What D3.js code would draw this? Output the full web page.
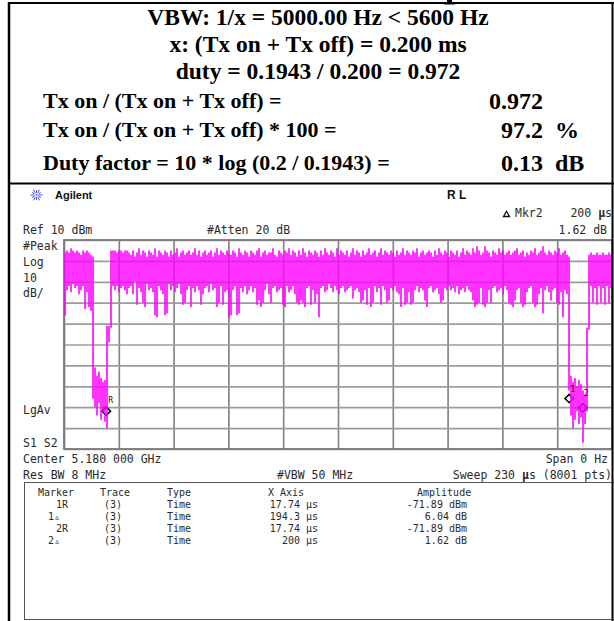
<!DOCTYPE html>
<html>
<head>
<meta charset="utf-8">
<script src="https://cdn.jsdelivr.net/npm/d3@7/dist/d3.min.js"></script>
<style>
  body { margin: 0; background: #fff; }
  svg { display: block; }
</style>
</head>
<body>
<svg id="chart" width="614" height="621"></svg>
<script>
// ---- summary block ----
const headLines = [
  "VBW: 1/x = 5000.00 Hz < 5600 Hz",
  "x: (Tx on + Tx off) = 0.200 ms",
  "duty = 0.1943 / 0.200 = 0.972"
];
const resultLabels = [
  "Tx on / (Tx on + Tx off) =",
  "Tx on / (Tx on + Tx off) * 100 =",
  "Duty factor = 10 * log (0.2 / 0.1943) ="
];
const resultValues = ["0.972", "97.2", "0.13"];
const resultUnits = ["", "%", "dB"];

// ---- analyzer settings ----
const refLevel = 10;      // dBm, top graticule line
const dbPerDiv = 10;
const divisions = 10;
const sweepTime = 230;    // μs across the screen

// ---- trace: peak-detected max / min per display bucket (dBm) ----
const traceHigh = [
  4,5,4,6,5,4,5,4,3,5,4,5,4,3,
  2,-51,-55,-53,-56,-58,-57,-31,-31,
  5,5,5,4,5,5,4,5,5,4,
  3,5,2,4,6,3,5,4,2,5,
  4,3,6,2,5,4,3,5,4,2,
  5,3,4,6,2,4,5,3,4,5,
  3,4,6,3,5,2,4,5,3,4,
  5,2,4,6,3,5,4,3,5,4,
  3,5,4,2,6,4,3,5,4,2,
  5,4,3,5,6,2,4,5,3,4,
  4,6,3,2,5,4,3,5,4,6,
  3,5,4,2,5,3,6,4,2,5,
  4,3,5,4,2,5,3,6,4,3,
  5,4,2,6,3,5,4,3,5,2,
  4,6,3,5,4,2,5,3,4,6,
  3,4,5,2,4,6,3,5,4,3,
  5,4,2,5,3,4,6,3,5,4,
  3,5,4,6,2,4,5,3,4,5,
  4,2,5,3,6,4,3,5,4,2,
  5,4,3,5,2,4,6,3,5,4,
  3,6,4,7,5,3,4,7,5,4,
  2,5,4,3,6,4,5,3,4,5,
  3,4,5,6,3,4,5,2,4,3,
  5,4,6,3,4,5,7,4,3,5,
  4,3,5,4,6,3,4,5,3,
  2,-55,-58,-56,-60,-57,-59,-62,-64,-32,
  3,4,3,3,4,3,3,4,3,3,4,3
];
const traceLow = [
  -26,-14,-12,-15,-11,-13,-12,-16,-14,-12,-23,-15,-22,-24,
  -66,-70,-74,-68,-76,-72,-77,-80,-39,
  -32,-12,-14,-12,-15,-13,-12,-14,-16,-13,
  -12,-16,-10,-21,-13,-15,-20,-22,-11,-14,
  -13,-15,-26,-27,-12,-14,-16,-26,-25,-11,
  -14,-12,-15,-13,-11,-16,-21,-20,-14,-12,
  -22,-13,-15,-12,-14,-21,-16,-13,-12,-15,
  -11,-14,-13,-22,-20,-12,-21,-15,-14,-27,
  -26,-14,-12,-26,-25,-13,-15,-12,-16,-14,
  -12,-15,-13,-21,-19,-22,-20,-14,-11,-16,
  -20,-13,-12,-15,-14,-13,-21,-22,-12,-15,
  -14,-12,-16,-20,-21,-19,-20,-22,-13,-12,
  -21,-14,-20,-16,-27,-13,-12,-15,-14,-11,
  -13,-15,-12,-14,-16,-13,-12,-15,-14,-13,
  -12,-18,-14,-13,-15,-20,-19,-14,-21,-13,
  -22,-20,-12,-15,-13,-21,-12,-14,-20,-19,
  -13,-14,-12,-15,-16,-22,-13,-21,-20,-15,
  -21,-20,-14,-12,-15,-13,-14,-19,-22,-13,
  -12,-15,-14,-13,-16,-20,-19,-13,-14,-12,
  -14,-13,-15,-12,-16,-14,-13,-15,-12,-14,
  -15,-19,-22,-21,-20,-13,-21,-22,-20,-14,
  -20,-13,-12,-15,-14,-13,-16,-12,-14,-20,
  -21,-22,-19,-14,-13,-20,-22,-21,-15,-13,
  -12,-20,-22,-21,-16,-13,-25,-14,-12,-15,
  -19,-14,-13,-20,-21,-15,-27,-14,-16,
  -62,-74,-80,-76,-72,-78,-75,-87,-78,-72,
  -33,-12,-20,-13,-21,-12,-20,-13,-21,-12,-20,-13
];

// ---- markers (reference marker, then deltas relative to it) ----
const markerNames  = ["1R", "1\u25B5", "2R", "2\u25B5"];
const markerTraces = ["(3)", "(3)", "(3)", "(3)"];
const markerTypes  = ["Time", "Time", "Time", "Time"];
const markerTimes  = [17.74, 194.3, 17.74, 200];     // μs
const markerAmps   = [-71.89, 6.04, -71.89, 1.62];   // dBm for R, dB for deltas
const markerIsRef  = [true, false, true, false];

const svg = d3.select("#chart");
const mono = "'DejaVu Sans Mono', monospace";
const serif = "'Liberation Serif', 'Times New Roman', serif";
const textColor = "#2a2a2a";

// ================= summary block =================
const summary = svg.append("g");
// tail of the heading glyph above the box
summary.append("path").attr("d", "M447,0H452V2.5H455V4.5H444V2.5H447Z").attr("fill", "#000");

headLines.forEach((t, i) => {
  summary.append("text")
    .attr("x", 318).attr("y", 25 + i * 27)
    .attr("text-anchor", "middle")
    .attr("font-family", serif).attr("font-weight", "bold").attr("font-size", 23.5)
    .text(t);
});
resultLabels.forEach((t, i) => {
  const by = [108, 137, 170][i];
  summary.append("text")
    .attr("x", 43).attr("y", by)
    .attr("font-family", serif).attr("font-weight", "bold").attr("font-size", 22)
    .text(t);
  summary.append("text")
    .attr("x", 543).attr("y", by + 1)
    .attr("text-anchor", "end")
    .attr("font-family", serif).attr("font-weight", "bold").attr("font-size", 24)
    .text(resultValues[i]);
  if (resultUnits[i]) {
    summary.append("text")
      .attr("x", 555).attr("y", by + 1)
      .attr("font-family", serif).attr("font-weight", "bold").attr("font-size", 24)
      .text(resultUnits[i]);
  }
});

// ================= analyzer screen =================
const grid = { x0: 64, x1: 612, y0: 240, y1: 449 };
const x = d3.scaleLinear().domain([0, sweepTime]).range([grid.x0, grid.x1]);
const y = d3.scaleLinear()
  .domain([refLevel - dbPerDiv * divisions, refLevel])
  .range([grid.y1, grid.y0]);

const divTimes = d3.range(divisions + 1).map(i => i * sweepTime / divisions);
const divLevels = d3.range(divisions + 1).map(i => refLevel - i * dbPerDiv);

// graticule drawn with axes whose ticks span the screen
const gx = svg.append("g")
  .attr("transform", `translate(0,${grid.y1})`)
  .call(d3.axisBottom(x).tickValues(divTimes).tickSize(-(grid.y1 - grid.y0)).tickFormat(""));
gx.select(".domain").remove();
gx.selectAll("line").attr("stroke", "#858585").attr("stroke-width", 1.7);

const gy = svg.append("g")
  .attr("transform", `translate(${grid.x0},0)`)
  .call(d3.axisLeft(y).tickValues(divLevels).tickSize(-(grid.x1 - grid.x0)).tickFormat(""));
gy.select(".domain").remove();
gy.selectAll("line").attr("stroke", "#9c9c9c").attr("stroke-width", 1.7);
// frame edges a little darker
svg.append("rect").attr("x", grid.x0).attr("y", grid.y0)
  .attr("width", grid.x1 - grid.x0).attr("height", grid.y1 - grid.y0)
  .attr("fill", "none").attr("stroke", "#7a7a7a").attr("stroke-width", 1.8);

// marker diamonds (under the trace)
const mkX = (i) => markerIsRef[i] ? markerTimes[i] : markerTimes[0] + markerTimes[i];
const mkY = (i) => markerIsRef[i] ? markerAmps[i] : markerAmps[0] + markerAmps[i];
const diamond = (cx, cy, r) => `M${cx - r},${cy}L${cx},${cy - r}L${cx + r},${cy}L${cx},${cy + r}Z`;
const markerIdx = [0, 1, 3];
svg.append("g").selectAll("path").data(markerIdx).join("path")
  .attr("d", i => diamond(x(mkX(i)), y(mkY(i)), 4.2))
  .attr("fill", "none").attr("stroke", "#000").attr("stroke-width", 1.6);

// trace
svg.append("clipPath").attr("id", "scr").append("rect")
  .attr("x", grid.x0).attr("y", grid.y0 - 2)
  .attr("width", grid.x1 - grid.x0).attr("height", grid.y1 - grid.y0 + 2);
const bucket = d3.scaleLinear().domain([0, traceHigh.length]).range([0, sweepTime]);
svg.append("g").attr("clip-path", "url(#scr)")
  .selectAll("line").data(traceHigh).join("line")
  .attr("x1", (d, i) => x(bucket(i + 0.5)))
  .attr("x2", (d, i) => x(bucket(i + 0.5)))
  .attr("y1", d => y(d))
  .attr("y2", (d, i) => y(traceLow[i]))
  .attr("stroke", "#ff00ff").attr("stroke-width", 1.6);

// marker labels
svg.append("text").attr("x", x(mkX(0)) + 2).attr("y", y(mkY(0)) - 8)
  .attr("font-family", mono).attr("font-size", 8).attr("fill", "#111").text("R");
svg.append("text").attr("x", x(mkX(1)) + 1).attr("y", y(mkY(1)) - 7)
  .attr("font-family", mono).attr("font-size", 8).attr("fill", "#111").text("1");
svg.append("text").attr("x", x(mkX(3)) + 1).attr("y", y(mkY(3)) - 12)
  .attr("font-family", mono).attr("font-size", 8).attr("fill", "#111").text("2");

// ---- screen annotations ----
const ann = (t, xx, yy, anchor, size) => svg.append("text")
  .attr("x", xx).attr("y", yy).attr("text-anchor", anchor || "start")
  .attr("font-family", mono).attr("font-size", size || 11.5).attr("fill", textColor)
  .text(t);

// Agilent logo burst
const logo = svg.append("g").attr("transform", "translate(36.5,195)");
d3.range(12).forEach(k => {
  const a = k * Math.PI / 6;
  logo.append("line")
    .attr("x1", 2.2 * Math.cos(a)).attr("y1", 2.2 * Math.sin(a))
    .attr("x2", (k % 2 ? 5 : 6.2) * Math.cos(a)).attr("y2", (k % 2 ? 5 : 6.2) * Math.sin(a))
    .attr("stroke", "#4b4bf5").attr("stroke-width", 1);
});
logo.append("circle").attr("r", 1.2).attr("fill", "#8a8aff");
svg.append("text").attr("x", 55).attr("y", 198.5)
  .attr("font-family", "'Liberation Sans', Arial, sans-serif").attr("font-weight", "bold")
  .attr("font-size", 11).attr("fill", "#111").text("Agilent");
svg.append("text").attr("x", 447).attr("y", 199)
  .attr("font-family", "'Liberation Sans', Arial, sans-serif").attr("font-weight", "bold")
  .attr("font-size", 12).attr("fill", "#111").text("R L");

// active marker readout
svg.append("path").attr("d", "M503.5,216.5L506.5,211.2L509.5,216.5Z")
  .attr("fill", "none").attr("stroke", "#111").attr("stroke-width", 1.3);
ann("Mkr2", 515, 217);
const mk2 = svg.append("text").attr("x", 612).attr("y", 217).attr("text-anchor", "end")
  .attr("font-family", mono).attr("font-size", 11.5).attr("fill", textColor);
mk2.append("tspan").text(`${markerTimes[3]} `);
mk2.append("tspan").attr("font-weight", "bold").text("\u03BC");
mk2.append("tspan").text("s");
ann(`${markerAmps[3].toFixed(2)} dB`, 607, 234, "end");

ann(`Ref ${refLevel} dBm`, 23, 233.5);
ann("#Atten 20 dB", 207, 233.5);
ann("#Peak", 23, 250);
ann("Log", 23, 266);
ann(`${dbPerDiv}`, 23, 282);
ann("dB/", 23, 297);
ann("LgAv", 23, 414);
ann("S1  S2", 23, 447);
ann("Center 5.180 000 GHz", 23, 463);
ann("Span 0 Hz", 608, 463, "end");
ann("Res BW 8 MHz", 23, 479);
ann("#VBW 50 MHz", 277, 479);
const sw = svg.append("text").attr("x", 612).attr("y", 479).attr("text-anchor", "end")
  .attr("font-family", mono).attr("font-size", 11.5).attr("fill", textColor);
sw.append("tspan").text(`Sweep ${sweepTime} `);
sw.append("tspan").attr("font-weight", "bold").text("\u03BC");
sw.append("tspan").text("s (8001 pts)");

// ---- marker table ----
svg.append("rect").attr("x", 24.5).attr("y", 482.5).attr("width", 600).attr("height", 137)
  .attr("fill", "none").attr("stroke", "#555").attr("stroke-width", 1);
const tfs = 10;
const headX = [38, 100, 167, 268, 417];
["Marker", "Trace", "Type", "X Axis", "Amplitude"].forEach((h, i) => ann(h, headX[i], 496, "start", tfs));
markerNames.forEach((n, i) => {
  const ry = 508 + i * 12;
  ann(n, markerIsRef[i] ? 56 : 48, ry, "start", tfs);
  ann(markerTraces[i], 104, ry, "start", tfs);
  ann(markerTypes[i], 167, ry, "start", tfs);
  ann(`${markerTimes[i]} \u03BCs`, 318, ry, "end", tfs);
  ann(markerIsRef[i] ? `${markerAmps[i].toFixed(2)} dBm` : `${markerAmps[i].toFixed(2)} dB`, 467, ry, "end", tfs);
});

// ---- table cell borders ----
const border = svg.append("g").attr("stroke", "#000").attr("fill", "none");
border.append("line").attr("x1", 9).attr("x2", 9).attr("y1", 2).attr("y2", 621).attr("stroke-width", 2.5);
border.append("line").attr("x1", 612.5).attr("x2", 612.5).attr("y1", 2).attr("y2", 621).attr("stroke-width", 2);
border.append("line").attr("x1", 8).attr("x2", 614).attr("y1", 3).attr("y2", 3).attr("stroke-width", 2.2);
border.append("line").attr("x1", 8).attr("x2", 614).attr("y1", 183.5).attr("y2", 183.5).attr("stroke-width", 2.2);
</script>
</body>
</html>
